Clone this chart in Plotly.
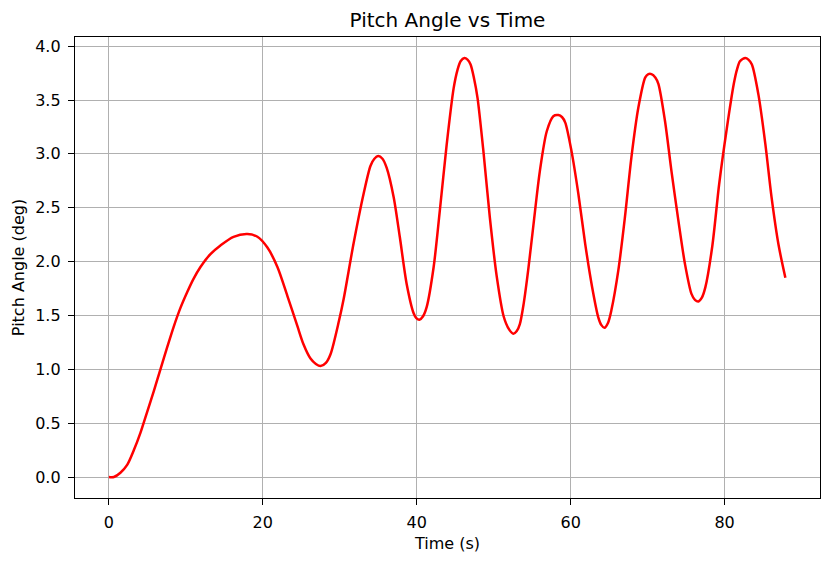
import plotly.graph_objects as go

# values
time_s = [0.0, 0.65, 1.5, 2.4, 3.25, 4.1, 5.0, 5.85, 6.7, 7.6, 8.4, 9.3, 10.2, 11.0, 11.9,
          13.2, 14.5, 16.2, 18.0, 19.3, 20.6, 21.9, 23.2, 24.5, 25.3, 26.2, 26.9, 27.5,
          28.2, 28.8, 29.9, 30.5, 31.8, 33.1, 34.0, 34.5, 35.0, 35.55, 36.1, 37.0, 37.8,
          38.7, 39.6, 39.95, 40.35, 40.8, 41.3, 42.2, 43.0, 43.9, 44.8, 45.3, 45.7, 46.2,
          46.6, 47.0, 47.45, 47.9, 48.7, 49.5, 50.4, 51.3, 52.0, 52.55, 53.0, 53.4, 53.9,
          54.5, 55.15, 56.0, 56.9, 57.75, 58.4, 58.9, 59.3, 60.1, 61.0, 61.9, 62.8, 63.6,
          64.0, 64.4, 64.85, 65.3, 66.2, 67.05, 67.9, 68.8, 69.7, 70.1, 70.5, 71.0, 71.4,
          72.25, 73.1, 74.0, 74.85, 75.7, 76.15, 76.6, 77.05, 77.5, 78.4, 79.3, 80.3, 81.2,
          81.6, 82.0, 82.7, 83.1, 83.55, 84.4, 85.3, 86.1, 87.0, 87.9]
pitch_deg = [0.0, 0.0, 0.04, 0.115, 0.25, 0.41, 0.61, 0.80, 1.00, 1.21, 1.39, 1.57, 1.72, 1.84, 1.95,
             2.07, 2.15, 2.23, 2.255, 2.23, 2.13, 1.95, 1.68, 1.40, 1.23, 1.10, 1.05, 1.03,
             1.06, 1.14, 1.45, 1.65, 2.17, 2.63, 2.89, 2.955, 2.98, 2.955, 2.87, 2.60, 2.23,
             1.79, 1.52, 1.475, 1.46, 1.49, 1.58, 1.95, 2.47, 3.09, 3.61, 3.78, 3.86, 3.89,
             3.875, 3.83, 3.70, 3.52, 3.0, 2.41, 1.86, 1.49, 1.37, 1.33, 1.355, 1.42, 1.61,
             1.93, 2.33, 2.84, 3.21, 3.35, 3.36, 3.34, 3.29, 3.03, 2.63, 2.16, 1.76, 1.48,
             1.41, 1.385, 1.43, 1.55, 1.92, 2.41, 2.97, 3.43, 3.71, 3.74, 3.74, 3.71, 3.65,
             3.31, 2.84, 2.38, 1.98, 1.70, 1.645, 1.63, 1.665, 1.76, 2.14, 2.72, 3.24, 3.65,
             3.78, 3.86, 3.89, 3.875, 3.83, 3.55, 3.09, 2.60, 2.16, 1.85]

x_ticks = [0, 20, 40, 60, 80]
y_ticks = [0.0, 0.5, 1.0, 1.5, 2.0, 2.5, 3.0, 3.5, 4.0]

fig = go.Figure()
fig.add_trace(go.Scatter(x=time_s, y=pitch_deg, mode="lines",
                         line=dict(color="red", width=2.5, shape="spline", smoothing=0.8)))

axis_style = dict(showline=True, linecolor="black", linewidth=1.3, mirror=True,
                  showgrid=True, gridcolor="#b0b0b0", gridwidth=1.3, zeroline=False,
                  ticks="outside", ticklen=6, tickwidth=1.3, tickcolor="black",
                  ticklabelstandoff=4, automargin=False,
                  tickfont=dict(size=16, color="black"))

# the page body adds an 8px offset, so the figure is sized 8px smaller
fig.update_layout(
    width=822, height=557,
    margin=dict(l=67, r=10, t=29, b=67),
    paper_bgcolor="white", plot_bgcolor="white",
    font=dict(family="DejaVu Sans", color="black"),
    showlegend=False,
    title=dict(text="Pitch Angle vs Time", x=0.5, xref="paper", xanchor="center",
               y=1 - 19 / 557, yanchor="bottom", font=dict(size=20)),
    xaxis=dict(axis_style, range=[-4.4, 92.4], tickvals=x_ticks,
               title=dict(text="Time (s)", font=dict(size=16), standoff=6)),
    yaxis=dict(axis_style, range=[-0.195, 4.085], tickvals=y_ticks,
               tickformat=".1f",
               title=dict(text="Pitch Angle (deg)", font=dict(size=16), standoff=6)),
)

fig.write_html("out.html")
